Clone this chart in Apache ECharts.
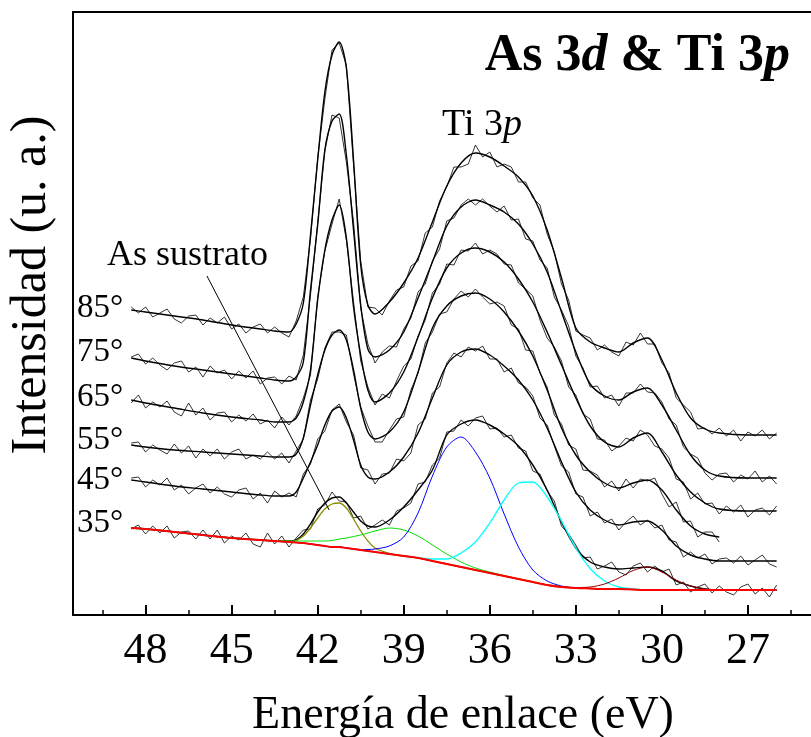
<!DOCTYPE html>
<html>
<head>
<meta charset="utf-8">
<title>As 3d &amp; Ti 3p</title>
<script src="https://cdn.jsdelivr.net/npm/echarts@6/dist/echarts.min.js"></script>
<style>
html, body { margin: 0; padding: 0; background: #fff; }
#main { width: 811px; height: 737px; }
</style>
</head>
<body>
<div id="main"></div>
<script>
// energy grid of the measured spectra (eV)
var energy = [48.5,48.25,48,47.75,47.5,47.25,47,46.75,46.5,46.25,46,45.75,45.5,45.25,45,44.75,44.5,44.25,44,43.75,
  43.5,43.25,43,42.75,42.5,42.25,42,41.75,41.5,41.25,41,40.75,40.5,40.25,40,39.75,39.5,39.25,39,38.75,
  38.5,38.25,38,37.75,37.5,37.25,37,36.75,36.5,36.25,36,35.75,35.5,35.25,35,34.75,34.5,34.25,34,33.75,
  33.5,33.25,33,32.75,32.5,32.25,32,31.75,31.5,31.25,31,30.75,30.5,30.25,30,29.75,29.5,29.25,29,28.75,
  28.5,28.25,28,27.75,27.5,27.25,27,26.75,26.5,26.25,26];
// energy grid of the fitted curves (eV)
var fitEnergy = [48.5,48,47,46,45,44,43.5,43,42.75,42.5,42.25,42,41.75,41.5,41.25,41,40.75,40.5,40.25,40,
  39.5,39,38.5,38,37.5,37,36.5,36,35.5,35,34.5,34,33.5,33,32.5,32,31.5,31,30.5,30,29.5,29,28.5,28,27,26];

var angles = ['85°', '75°', '65°', '55°', '45°', '35°'];

// measured spectra (stacked, u. a.)
var raw85 = [308,302,308,298,302,306,296,292,299,300,290,297,292,298,286,291,282,288,291,282,
  288,282,278,294,318,376,457,516,565,572,550,450,354,308,307,300,314,325,328,349,
  354,382,388,414,428,448,448,451,470,458,463,448,451,448,433,433,417,410,381,363,
  331,315,284,280,277,265,270,263,259,273,270,282,271,271,252,242,217,210,203,186,
  187,181,187,179,185,174,183,179,185,176,182];
var raw75 = [258,261,251,257,250,245,252,254,243,248,238,249,242,245,236,244,237,244,231,237,
  238,231,239,235,260,320,392,464,500,497,453,393,307,271,252,263,269,268,286,297,
  323,331,354,366,394,397,410,416,410,416,409,403,409,395,396,376,374,355,347,318,
  305,289,259,247,228,229,217,220,209,222,222,231,223,222,213,196,190,168,161,157,
  142,135,141,142,133,140,136,144,133,139,131];
var raw65 = [212,220,207,213,208,214,203,199,212,200,207,195,202,203,193,200,194,201,191,195,
  187,198,190,199,217,240,318,364,391,416,375,313,254,228,210,221,217,234,249,256,
  279,295,322,331,351,350,365,364,372,361,365,361,351,350,332,326,319,295,277,268,
  254,228,220,201,196,176,175,164,169,177,174,185,180,169,166,157,136,133,116,122,
  111,112,101,109,103,110,98,105,107,100,109];
var raw55 = [172,173,163,170,165,161,171,162,169,157,166,159,166,156,163,166,156,160,156,163,
  156,162,152,164,176,215,236,267,283,283,280,241,208,189,173,173,185,196,198,225,
  242,272,283,301,303,316,324,318,326,318,311,313,309,290,286,265,264,242,228,200,
  191,170,166,145,144,140,128,134,124,136,127,136,134,137,121,108,113,93,94,78,
  83,83,73];
var raw45 = [137,138,128,135,130,137,125,130,121,127,131,122,128,121,118,125,127,116,122,112,
  124,118,122,118,141,151,176,184,205,211,193,180,147,145,131,141,142,156,154,162,
  190,196,222,228,252,262,258,268,264,269,256,256,243,247,232,228,219,197,190,169,
  149,143,121,118,99,103,92,96,85,93,99,90,95,87,90,75,73,58,63,57,
  61,51,56,57,52,59,50,55,60,51,48];
var raw35 = [86,90,81,89,82,89,77,83,84,76,85,76,85,72,79,75,82,71,68,82,
  71,79,68,77,85,86,106,110,123,114,113,97,99,86,90,95,90,104,107,112,
  131,133,150,157,183,184,195,189,197,199,186,187,178,180,167,164,144,141,124,114,
  89,81,70,57,58,46,49,53,43,40,49,52,43,49,43,46,30,33,23,28,
  31,22,29,23,20,28,31,21,27,18,30];

// fitted envelopes
var fit85 = [305,303,299,295,290,286,284,283,291,312,380,455,523,560,573,547,455,350,310,301,
  313,332,357,393,429,452,462,458,449,438,419,385,337,287,273,267,263,272,277,255,222,197,186,182,180,180];
var fit75 = [257,254,249,245,241,237,235,234,238,253,325,390,465,494,501,460,385,310,266,258,
  265,283,317,353,389,408,415,410,403,391,371,343,303,263,231,219,215,223,227,210,185,160,145,139,137,137];
var fit65 = [215,212,207,202,198,195,193,193,197,213,245,315,365,395,410,377,308,260,225,213,
  222,243,278,317,347,362,367,363,353,336,313,283,250,217,189,173,168,177,182,163,140,123,112,106,104,104];
var fit55 = [170,168,165,163,161,159,158,158,161,177,210,240,265,280,285,275,245,207,183,176,
  183,203,243,287,309,319,322,316,303,284,259,225,187,160,143,132,127,132,135,125,105,89,81,78];
var fit45 = [135,133,129,126,123,120,119,119,123,137,153,170,190,204,208,197,175,150,138,136,
  143,158,182,217,250,263,266,260,249,235,215,187,153,123,105,95,90,93,94,85,69,60,56,54,54,54];
var fit35 = [87,86,83,80,77,75,74,74,75,81,91,103,112,117,118,112,103,94,89,88,
  95,108,125,145,180,191,195,190,181,169,150,125,93,67,53,48,46,47,48,44,34,29,26,25,25,25];

// 35° deconvolution: Shirley background and net component heights
var background = [87,86,83,80,77,75,74,73,72.5,72,71,70,69,68,68,67,66,65,64,63,
  61,59,57,54,51,48,45,42,39,36,33,30,28,27,26.5,26,26,25.5,25,25,25,25,25,25,25,25];
var asSustrato = [0,0,0,0,0,0,0,0.5,2,7,16,27,37,43,44,40,30,19,10,4,
  0.5,0,0,0,0,0,0,0,0,0,0,0,0,0,0,0,0,0,0,0,0,0,0,0,0,0];
var compGreen = [0,0,0,0,0,0,0.5,1,1.5,2,3,4,5,6.5,8,10,12.5,15,18,21,
  26,26,22,16,10,5,2,1,0.5,0,0,0,0,0,0,0,0,0,0,0,0,0,0,0,0,0];
var compBlue = [0,0,0,0,0,0,0,0,0,0,0,0,0,0,0,0,0,0.5,1.5,3,
  8,19,45,85,117,130,118,95,62,32,12,4,1,0,0,0,0,0,0,0,0,0,0,0,0,0];
var compCyan = [0,0,0,0,0,0,0,0,0,0,0,0,0,0,0,0,0,0,0,0,
  0,0,0.5,2,5,14,28,50,76,96,100,88,66,40,20,8,2,0.5,0,0,0,0,0,0,0,0];
var compDark = [0,0,0,0,0,0,0,0,0,0,0,0,0,0,0,0,0,0,0,0,
  0,0,0,0,0,0,0,0,0,0,0,0,0,0.5,1.5,5,11,19,23,18,10,4,1,0,0,0];

var serif = '"Liberation Serif", "Times New Roman", serif';

function pairs(xs, ys) {
  return ys.map(function (y, i) { return [xs[i], y]; });
}
function onBackground(net) {
  return net.map(function (v, i) { return background[i] + v; });
}

var chartDom = document.getElementById('main');
var myChart = echarts.init(chartDom);

var spectra = [raw85, raw75, raw65, raw55, raw45, raw35];
var fits = [fit85, fit75, fit65, fit55, fit45, fit35];
var series = [];

spectra.forEach(function (s, k) {
  series.push({
    name: angles[k], type: 'line', data: pairs(energy, s),
    showSymbol: false, z: 2,
    lineStyle: {color: '#000', width: 0.8}
  });
});
fits.forEach(function (f, k) {
  series.push({
    name: 'ajuste ' + angles[k], type: 'line', data: pairs(fitEnergy, f),
    showSymbol: false, smooth: 0.3, z: 3,
    lineStyle: {color: '#000', width: 1.4}
  });
});

var comps = [
  {name: 'As sustrato', data: asSustrato, color: '#8b8b00', width: 1.3},
  {name: 'comp 2', data: compGreen, color: '#00e000', width: 1},
  {name: 'comp 3', data: compBlue, color: '#0000ff', width: 1},
  {name: 'comp 4', data: compCyan, color: '#00ffff', width: 1.3},
  {name: 'comp 5', data: compDark, color: '#8b0000', width: 1}
];
comps.forEach(function (c) {
  series.push({
    name: c.name, type: 'line', data: pairs(fitEnergy, onBackground(c.data)),
    showSymbol: false, smooth: 0.3, z: 4,
    lineStyle: {color: c.color, width: c.width}
  });
});
series.push({
  name: 'fondo', type: 'line', data: pairs(fitEnergy, background),
  showSymbol: false, smooth: 0.3, z: 5,
  lineStyle: {color: '#ff0000', width: 2}
});

// arrow pointing at the substrate peak
series[5].markLine = {
  silent: true, symbol: ['none', 'arrow'], symbolSize: [0, 16],
  label: {show: false},
  lineStyle: {color: '#000', width: 1, type: 'solid'},
  data: [[{coord: [45.86, 339]}, {coord: [41.6, 105]}]]
};

var angleY = [308, 352, 397, 440, 480, 523];
var graphics = angles.map(function (a, k) {
  return {
    type: 'text', x: 77, y: angleY[k],
    style: {text: a, fontFamily: serif, fontSize: 33, fill: '#000',
      textAlign: 'left', textVerticalAlign: 'middle'}
  };
});
graphics.push({
  type: 'text', x: 790, y: 57,
  style: {text: 'As 3{i|d} & Ti 3{i|p}', fontFamily: serif, fontSize: 52, fontWeight: 'bold', fill: '#000',
    textAlign: 'right', textVerticalAlign: 'middle',
    rich: {i: {fontFamily: serif, fontSize: 52, fontWeight: 'bold', fontStyle: 'italic', fill: '#000'}}}
});
graphics.push({
  type: 'text', x: 442, y: 125,
  style: {text: 'Ti 3{i|p}', fontFamily: serif, fontSize: 38, fill: '#000',
    textAlign: 'left', textVerticalAlign: 'middle',
    rich: {i: {fontFamily: serif, fontSize: 38, fontStyle: 'italic', fill: '#000'}}}
});
graphics.push({
  type: 'text', x: 107, y: 256,
  style: {text: 'As sustrato', fontFamily: serif, fontSize: 36, fill: '#000',
    textAlign: 'left', textVerticalAlign: 'middle'}
});
graphics.push({
  type: 'text', x: 463, y: 716,
  style: {text: 'Energía de enlace (eV)', fontFamily: serif, fontSize: 46, fill: '#000',
    textAlign: 'center', textVerticalAlign: 'middle'}
});
graphics.push({
  type: 'text', x: 32, y: 285, rotation: Math.PI / 2,
  style: {text: 'Intensidad (u. a.)', fontFamily: serif, fontSize: 50, fill: '#000',
    textAlign: 'center', textVerticalAlign: 'middle'}
});

var option = {
  animation: false,
  backgroundColor: '#fff',
  // plot box runs past the right edge of the picture (24 eV sits off-canvas)
  grid: {left: 73, width: 761, top: 12, bottom: 122, containLabel: false, outerBoundsMode: 'none'},
  xAxis: [
    {
      type: 'value', position: 'bottom', inverse: true, min: 24, max: 50.53, interval: 3,
      axisLine: {onZero: false, lineStyle: {color: '#000', width: 2}},
      axisTick: {inside: true, length: 10, lineStyle: {color: '#000', width: 2}},
      axisLabel: {color: '#000', fontFamily: serif, fontSize: 44, margin: 14,
        showMinLabel: false, showMaxLabel: false},
      splitLine: {show: false}
    },
    {
      type: 'value', position: 'bottom', inverse: true, min: 24, max: 50.53, interval: 1.5,
      axisLine: {show: false, onZero: false},
      axisTick: {inside: true, length: 5, lineStyle: {color: '#000', width: 1.5}},
      axisLabel: {show: false},
      splitLine: {show: false}
    },
    {
      type: 'value', position: 'top', inverse: true, min: 24, max: 50.53,
      axisLine: {show: true, onZero: false, lineStyle: {color: '#000', width: 2}},
      axisTick: {show: false}, axisLabel: {show: false}, splitLine: {show: false}
    }
  ],
  yAxis: {
    type: 'value', min: 0, max: 603,
    axisLine: {show: true, onZero: false, lineStyle: {color: '#000', width: 2}},
    axisTick: {show: false}, axisLabel: {show: false}, splitLine: {show: false}
  },
  graphic: graphics,
  series: series
};

option && myChart.setOption(option);
</script>
</body>
</html>
